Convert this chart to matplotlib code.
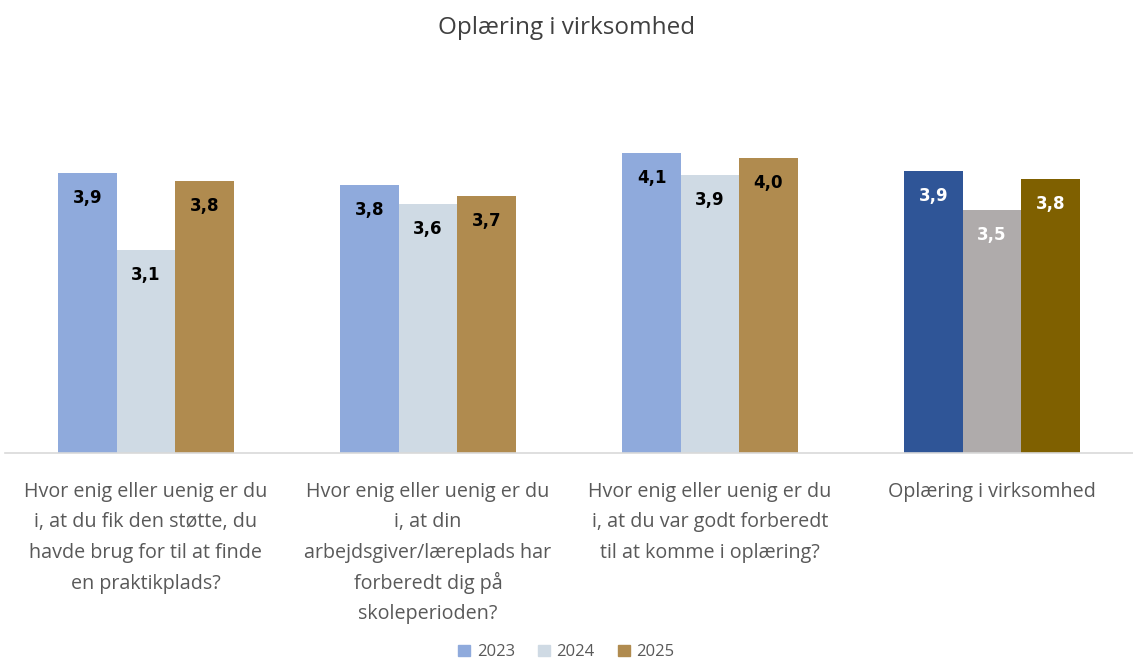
import matplotlib

matplotlib.use("Agg")

import matplotlib.pyplot as plt
import matplotlib.transforms as mtransforms
import numpy as np
from matplotlib.patches import Patch

plt.rcParams["font.family"] = ["Open Sans", "DejaVu Sans"]

categories = [
    "Hvor enig eller uenig er du\ni, at du fik den støtte, du\nhavde brug for til at finde\nen praktikplads?",
    "Hvor enig eller uenig er du\ni, at din\narbejdsgiver/læreplads har\nforberedt dig på\nskoleperioden?",
    "Hvor enig eller uenig er du\ni, at du var godt forberedt\ntil at komme i oplæring?",
    "Oplæring i virksomhed",
]
years = ["2023", "2024", "2025"]
v2023 = [3.89, 3.76, 4.09, 3.91]
v2024 = [3.09, 3.57, 3.87, 3.51]
v2025 = [3.80, 3.65, 4.04, 3.82]
labels2023 = ["3,9", "3,8", "4,1", "3,9"]
labels2024 = ["3,1", "3,6", "3,9", "3,5"]
labels2025 = ["3,8", "3,7", "4,0", "3,8"]

# last group (total) uses darker shades
colors = {
    "2023": ["#8FAADC", "#8FAADC", "#8FAADC", "#2F5597"],
    "2024": ["#CFDAE4", "#CFDAE4", "#CFDAE4", "#AFABAB"],
    "2025": ["#B08B4F", "#B08B4F", "#B08B4F", "#7F6000"],
}
text_colors = ["black", "black", "black", "white"]

W, H = 1133, 659
fig = plt.figure(figsize=(W / 100, H / 100), dpi=100)
ax = fig.add_axes([0.0044, 0.3126, 0.9956, 0.5888])

x = np.arange(len(categories))
w = 0.207
series = [(v2023, labels2023), (v2024, labels2024), (v2025, labels2025)]
for k, (year, (vals, labs)) in enumerate(zip(years, series)):
    xs = x + (k - 1) * w
    heights = np.array(vals) - 1
    ax.bar(xs, heights, width=w, bottom=1, color=colors[year], edgecolor="none")
    for xi, vi, lab, tc in zip(xs, vals, labs, text_colors):
        ax.annotate(lab, (xi, vi), xytext=(0, -18), textcoords="offset points",
                    ha="center", va="center", fontsize=12, fontweight="bold",
                    color=tc, family="DejaVu Sans")

ax.set_xlim(-0.5, 3.5)
ax.set_ylim(1, 5)
ax.set_yticks([])
ax.set_xticks(x)
ax.set_xticklabels([])
ax.tick_params(axis="x", length=0)
for s in ["top", "left", "right"]:
    ax.spines[s].set_visible(False)
ax.spines["bottom"].set_color("#D9D9D9")
ax.spines["bottom"].set_linewidth(1.2)

# category labels, one text per line so the line pitch stays even
trans = mtransforms.blended_transform_factory(ax.transData, fig.transFigure)
for xi, cat in zip(x, categories):
    for i, line in enumerate(cat.split("\n")):
        ax.text(xi, 1 - (497 + 30.5 * i) / H, line, transform=trans,
                ha="center", va="baseline", fontsize=14.2, color="#595959",
                clip_on=False)

fig.suptitle("Oplæring i virksomhed", y=0.975, fontsize=17.5, color="#404040")

handles = [Patch(color=colors[y][0]) for y in years]
fig.legend(handles, years, loc="lower center", bbox_to_anchor=(0.5, -0.025),
           ncol=3, frameon=False, fontsize=12, labelcolor="#595959",
           handlelength=0.7, handleheight=0.7, handletextpad=0.4,
           columnspacing=1.4)

fig.savefig("out.png", dpi=100)
plt.close(fig)
